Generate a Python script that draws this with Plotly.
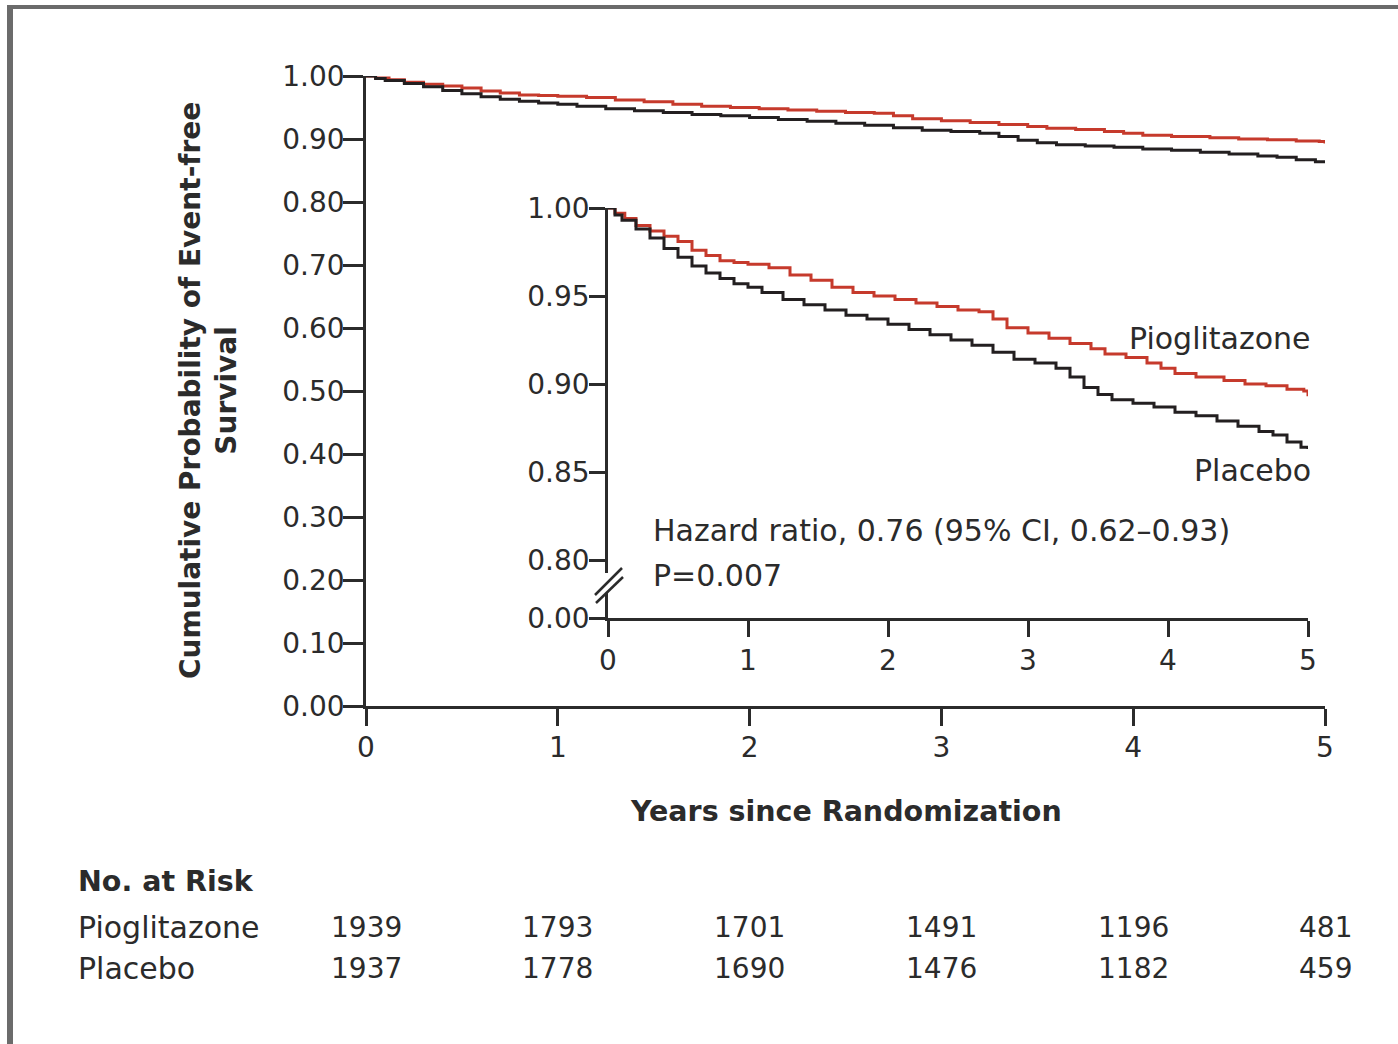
import plotly.graph_objects as go

W, H = 1398, 1044

# Kaplan-Meier estimates (years since randomization, event-free survival)
pio_t = [0, 0.05, 0.12, 0.2, 0.3, 0.4, 0.5, 0.6, 0.7, 0.8, 0.9, 1.0, 1.15, 1.3, 1.45,
         1.6, 1.75, 1.9, 2.05, 2.2, 2.35, 2.5, 2.65, 2.75, 2.85, 3.0, 3.15, 3.3, 3.45,
         3.55, 3.7, 3.85, 3.95, 4.05, 4.2, 4.4, 4.55, 4.7, 4.85, 4.97, 5.0]
pio_s = [1.000, 0.997, 0.994, 0.990, 0.987, 0.984, 0.981, 0.976, 0.973, 0.970, 0.969,
         0.968, 0.966, 0.962, 0.959, 0.955, 0.952, 0.950, 0.948, 0.946, 0.944, 0.942,
         0.941, 0.937, 0.932, 0.929, 0.926, 0.923, 0.920, 0.917, 0.915, 0.912, 0.909,
         0.906, 0.904, 0.902, 0.900, 0.899, 0.897, 0.896, 0.893]

pla_t = [0, 0.05, 0.1, 0.2, 0.3, 0.4, 0.5, 0.6, 0.7, 0.8, 0.9, 1.0, 1.1, 1.25, 1.4,
         1.55, 1.7, 1.85, 2.0, 2.15, 2.3, 2.45, 2.6, 2.75, 2.9, 3.05, 3.2, 3.3, 3.4,
         3.5, 3.6, 3.75, 3.9, 4.05, 4.2, 4.35, 4.5, 4.65, 4.75, 4.85, 4.95, 5.0]
pla_s = [1.000, 0.996, 0.993, 0.988, 0.983, 0.977, 0.972, 0.967, 0.963, 0.960, 0.957,
         0.955, 0.952, 0.948, 0.945, 0.942, 0.939, 0.937, 0.934, 0.931, 0.928, 0.925,
         0.922, 0.918, 0.914, 0.912, 0.909, 0.904, 0.898, 0.894, 0.891, 0.889, 0.887,
         0.884, 0.882, 0.879, 0.876, 0.873, 0.871, 0.867, 0.864, 0.863]

years = [0, 1, 2, 3, 4, 5]
main_yticks = [0.0, 0.1, 0.2, 0.3, 0.4, 0.5, 0.6, 0.7, 0.8, 0.9, 1.0]
inset_yticks = [0.80, 0.85, 0.90, 0.95, 1.00]
at_risk_groups = ["Pioglitazone", "Placebo"]
at_risk_pio = [1939, 1793, 1701, 1491, 1196, 481]
at_risk_pla = [1937, 1778, 1690, 1476, 1182, 459]

RED = "#c63a2c"
BLACK = "#231f20"
AX = "#2b2b2b"
TXT = "#2b2b2b"
FONT = "DejaVu Sans"


def px(x):
    return x / W


def py(y):
    return 1 - y / H


# inset broken axis: 0.00 sits below 0.80
inset_zero = 0.80 - 58 / 1760.0

fig = go.Figure()
for t, s, c in [(pio_t, pio_s, RED), (pla_t, pla_s, BLACK)]:
    fig.add_trace(go.Scatter(x=t, y=s, mode="lines", line=dict(color=c, width=3, shape="hv"),
                             xaxis="x", yaxis="y", showlegend=False, hoverinfo="skip"))
for t, s, c in [(pio_t, pio_s, RED), (pla_t, pla_s, BLACK)]:
    fig.add_trace(go.Scatter(x=t, y=s, mode="lines", line=dict(color=c, width=3, shape="hv"),
                             xaxis="x2", yaxis="y2", showlegend=False, hoverinfo="skip"))

tickfont = dict(family=FONT, size=28, color=TXT)
common = dict(showgrid=False, zeroline=False, showline=True, linecolor=AX, linewidth=2.5,
              ticks="outside", tickcolor=AX, tickwidth=2.5, tickfont=tickfont, automargin=False)

fig.update_layout(
    width=W, height=H,
    margin=dict(l=0, r=0, t=0, b=0, pad=0, autoexpand=False),
    paper_bgcolor="white", plot_bgcolor="rgba(0,0,0,0)",
    xaxis=dict(domain=[px(366), px(1325)], range=[0, 5], tickvals=years, ticklen=17,
               ticklabelstandoff=-2, anchor="y", **common),
    yaxis=dict(domain=[py(706), py(76)], range=[0, 1], tickvals=main_yticks,
               ticktext=[f"{v:.2f}" for v in main_yticks], ticklen=20,
               ticklabelstandoff=-7, anchor="x", **common),
    xaxis2=dict(domain=[px(608), px(1308)], range=[0, 5], tickvals=years, ticklen=16,
                anchor="y2", **common),
    yaxis2=dict(domain=[py(618), py(208)], range=[inset_zero, 1.0],
                tickvals=[inset_zero] + inset_yticks,
                ticktext=["0.00"] + [f"{v:.2f}" for v in inset_yticks], ticklen=16,
                ticklabelstandoff=-6, anchor="x2", **common),
)

shapes = []
# outer frame (top and left bands)
shapes.append(dict(type="rect", xref="paper", yref="paper", x0=px(7), x1=1, y0=py(9), y1=py(5),
                   fillcolor="#6b6b6b", line=dict(width=0)))
shapes.append(dict(type="rect", xref="paper", yref="paper", x0=px(7), x1=px(13), y0=0, y1=py(5),
                   fillcolor="#6b6b6b", line=dict(width=0)))
# axis break on the inset y axis
shapes.append(dict(type="rect", xref="paper", yref="paper", x0=px(603), x1=px(613),
                   y0=py(593), y1=py(573), fillcolor="white", line=dict(width=0)))
shapes.append(dict(type="line", xref="paper", yref="paper", x0=px(595), y0=py(595),
                   x1=px(622), y1=py(568), line=dict(color=AX, width=2.5)))
shapes.append(dict(type="line", xref="paper", yref="paper", x0=px(596), y0=py(603),
                   x1=px(623), y1=py(577), line=dict(color=AX, width=2.5)))
fig.update_layout(shapes=shapes)

ann = []


def text(x, y, s, size=30, bold=False, xanchor="left", angle=0):
    ann.append(dict(x=px(x), y=py(y), xref="paper", yref="paper", text=f"<b>{s}</b>" if bold else s,
                    showarrow=False, xanchor=xanchor, yanchor="middle", textangle=angle,
                    font=dict(family=FONT, size=size, color=TXT)))


text(209, 391, "Cumulative Probability of Event-free<br>Survival", size=28, bold=True,
     xanchor="center", angle=-90)
text(846, 811, "Years since Randomization", size=28.5, bold=True, xanchor="center")
text(1313, 338, "Pioglitazone", xanchor="right")
text(1313, 470, "Placebo", xanchor="right")
text(651, 530, "Hazard ratio, 0.76 (95% CI, 0.62–0.93)")
text(651, 575, "P=0.007")

text(76, 881, "No. at Risk", size=28.5, bold=True)
text(76, 927, at_risk_groups[0])
text(76, 968, at_risk_groups[1])
col_x = [366 + i * 191.8 for i in range(len(years))]
for cx, a, b in zip(col_x, at_risk_pio, at_risk_pla):
    text(cx, 927, str(a), size=28, xanchor="center")
    text(cx, 968, str(b), size=28, xanchor="center")

fig.update_layout(annotations=ann)
fig.write_html("out.html")
